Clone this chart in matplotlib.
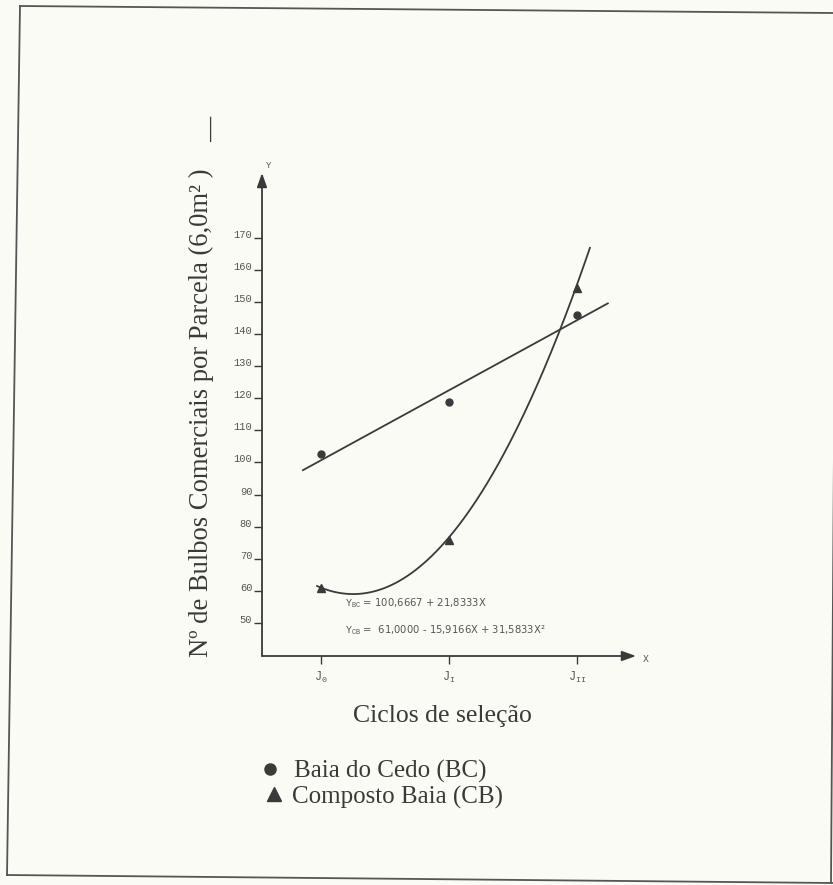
import numpy as np
import matplotlib
matplotlib.use("Agg")
import matplotlib.pyplot as plt
from matplotlib.lines import Line2D

# fonte monoespacada para rotulos e equacoes (mathtext incluido)
plt.rcParams['mathtext.fontset'] = 'custom'
plt.rcParams['mathtext.rm'] = 'Liberation Mono'
plt.rcParams['mathtext.it'] = 'Liberation Mono'

W, H = 833, 885          # tamanho da figura em pixels
COR = '#3a3a3a'          # tinta
COR_ROT = '#555555'      # rotulos pequenos
FUNDO = '#fbfbf5'        # papel

# Ciclos de selecao
CICLOS = [0, 1, 2]
CICLOS_ROTULOS = [r'$\mathrm{J_0}$', r'$\mathrm{J_I}$', r'$\mathrm{J_{II}}$']

# Medias observadas de bulbos comerciais por parcela
BC = [102.5, 119.0, 146.0]   # Baia do Cedo
CB = [61.0, 76.0, 154.5]     # Composto Baia

# Coeficientes das regressoes (termo independente primeiro)
COEF_BC = [100.6667, 21.8333]
COEF_CB = [61.0000, -15.9166, 31.5833]

# Trecho de X em que cada curva foi tracada
X_BC = [-0.14, 2.24]
X_CB = [-0.03, 2.10]

Y_TICKS = list(range(50, 171, 10))


def px(x, y):
    # pixel da imagem -> coordenada da figura
    return x / W, 1 - y / H


def fmt(v):
    return '{:.4f}'.format(abs(v)).replace('.', ',')


fig = plt.figure(figsize=(W / 100, H / 100), dpi=100, facecolor=FUNDO)

# moldura da pagina
for (x0, y0), (x1, y1) in [((20, 6), (833, 13)), ((20, 6), (7, 875)),
                           ((7, 875), (833, 883)), ((837, 13), (831, 883))]:
    a, b = px(x0, y0)
    c, d = px(x1, y1)
    fig.add_artist(Line2D([a, c], [b, d], color='#555555', lw=1.3))

# eixos
l, t = px(262, 173)
r, b = px(636, 656)
ax = fig.add_axes([l, b, r - l, t - b])
ax.set_facecolor('none')
ax.set_xlim(-0.46, 2.46)
ax.set_ylim(39.7, 190.2)
for s in ax.spines.values():
    s.set_visible(False)

seta = dict(arrowstyle='-|>,head_length=0.7,head_width=0.25', color=COR,
            lw=1.3, shrinkA=0, shrinkB=0, mutation_scale=12)
ax.annotate('', xy=(0, 1), xytext=(0, 0), xycoords='axes fraction', arrowprops=seta)
ax.annotate('', xy=(1, 0), xytext=(0, 0), xycoords='axes fraction', arrowprops=seta)

ax.set_yticks(Y_TICKS)
ax.set_yticklabels([str(v) for v in Y_TICKS])
ax.set_xticks(CICLOS)
ax.set_xticklabels(CICLOS_ROTULOS)
ax.tick_params(direction='out', length=6, width=1.0, color=COR,
               labelcolor=COR_ROT)
ax.tick_params(axis='y', labelsize=7.5, pad=1)
ax.tick_params(axis='x', labelsize=8.5, pad=4)
for tl in ax.get_yticklabels():
    tl.set_family('Liberation Mono')
    tl.set_va('baseline')

# curvas ajustadas
xb = np.linspace(X_BC[0], X_BC[1], 50)
ax.plot(xb, np.polyval(COEF_BC[::-1], xb), color=COR, lw=1.3)
xc = np.linspace(X_CB[0], X_CB[1], 200)
ax.plot(xc, np.polyval(COEF_CB[::-1], xc), color=COR, lw=1.3)

# medias observadas
ax.plot(CICLOS, BC, 'o', ms=5, color=COR, clip_on=False)
ax.plot(CICLOS, CB, '^', ms=6, color=COR, clip_on=False)

# equacoes
eq_bc = r'$\mathrm{Y_{BC}}$' + ' = {} + {}X'.format(fmt(COEF_BC[0]), fmt(COEF_BC[1]))
eq_cb = r'$\mathrm{Y_{CB}}$' + ' =  {} - {}X + {}X²'.format(
    fmt(COEF_CB[0]), fmt(COEF_CB[1]), fmt(COEF_CB[2]))
fig.text(*px(345, 606), eq_bc, size=7.2, color=COR_ROT, va='baseline')
fig.text(*px(345, 633), eq_cb, size=7.2, color=COR_ROT, va='baseline')

# letras dos eixos
fig.text(*px(269, 165), 'Y', size=6.5, family='Liberation Mono',
         color=COR_ROT, ha='center', va='center')
fig.text(*px(646, 659), 'X', size=7, family='Liberation Mono',
         color=COR_ROT, ha='center', va='center')

# titulos dos eixos
serif = 'Liberation Serif'
fig.text(*px(201, 413), 'Nº de Bulbos Comerciais por Parcela (6,0m² )',
         rotation=90, ha='center', va='center', size=19.2, family=serif, color=COR)
fig.text(*px(211, 129), '—', rotation=90, ha='center', va='center',
         size=18, family=serif, color=COR, fontweight='bold')
fig.text(*px(442, 722), 'Ciclos de seleção', ha='center', va='baseline',
         size=18.5, family=serif, color=COR)

# legenda
fig.add_artist(Line2D([px(270, 769)[0]], [px(270, 769)[1]], marker='o', ms=8,
                      color=COR, ls='none'))
fig.add_artist(Line2D([px(274, 794)[0]], [px(274, 794)[1]], marker='^', ms=10,
                      color=COR, ls='none'))
fig.text(*px(294, 778), 'Baia do Cedo (BC)', va='baseline', size=18,
         family=serif, color=COR)
fig.text(*px(292, 804), 'Composto Baia (CB)', va='baseline', size=18,
         family=serif, color=COR)

fig.savefig('out.png', dpi=100, facecolor=FUNDO)
